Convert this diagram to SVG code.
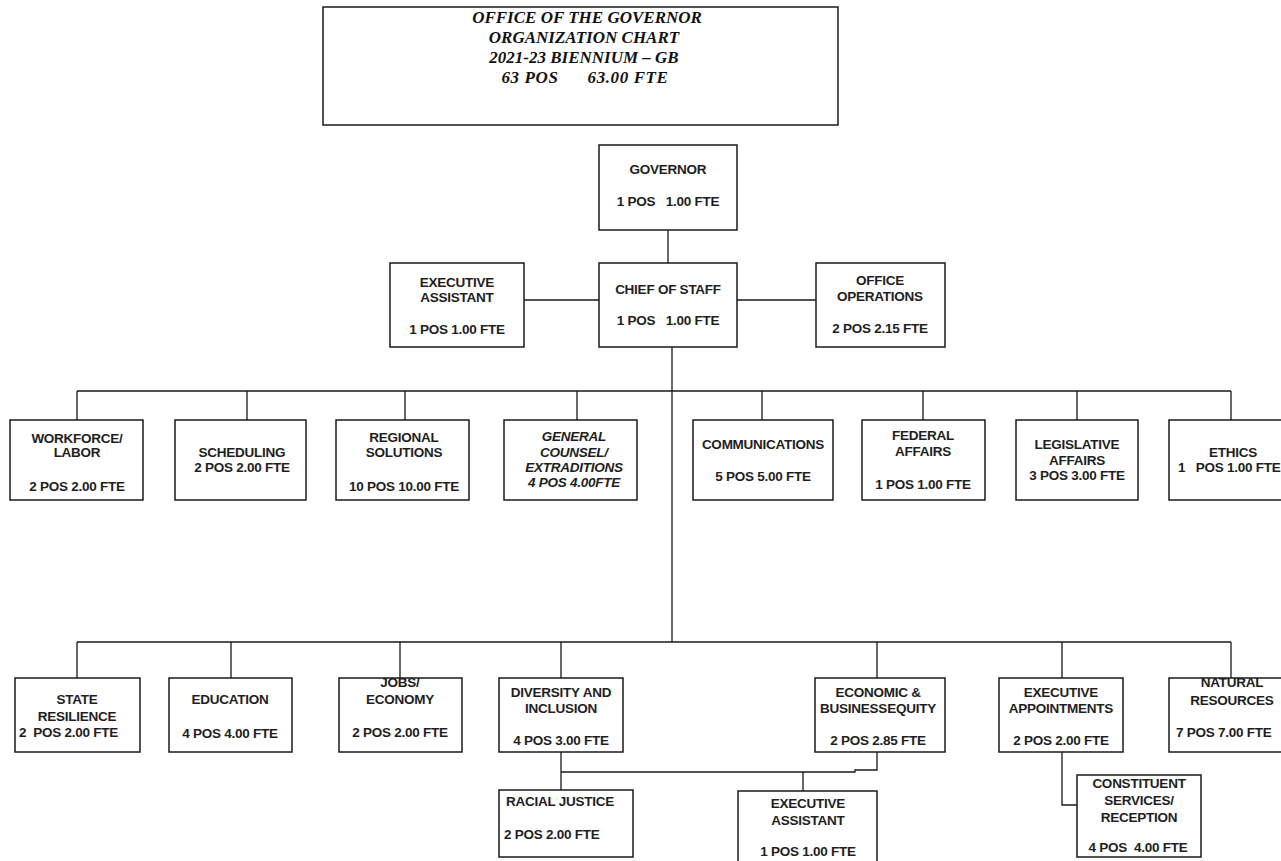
<svg xmlns="http://www.w3.org/2000/svg" width="1281" height="861" viewBox="0 0 1281 861">
<style>
.bg{fill:#fff}
.box{fill:#fff;stroke:#1a1a1a;stroke-width:1.5}
.ln{fill:none;stroke:#1a1a1a;stroke-width:1.3}
.t{font-family:"Liberation Sans",Arial,sans-serif;font-weight:bold;font-size:13.5px;fill:#1e1e1e;text-anchor:middle;letter-spacing:-0.25px}
.it{font-style:italic}
.st{text-anchor:start}
.ttl{font-family:"Liberation Serif","Times New Roman",serif;font-weight:bold;font-style:italic;font-size:17px;fill:#111;text-anchor:middle}
</style>
<rect class="bg" x="0" y="0" width="1281" height="861"/>
<g id="connectors">
<path class="ln" d="M668 230V263"/>
<path class="ln" d="M524 300H599M737 300H816"/>
<path class="ln" d="M672 347V642"/>
<path class="ln" d="M77 391H1231M77 391V420M247 391V420M405 391V420M577 391V420M762 391V420M923 391V420M1077 391V420M1231 391V420"/>
<path class="ln" d="M77 642H1231M77 642V678M231 642V678M400 642V678M561 642V678M877 642V678M1062 642V678M1231 642V678"/>
<path class="ln" d="M561 752V790M561 772H855V770H877V752M803 772V791"/>
<path class="ln" d="M1062 752V805H1077"/>
</g>
<g id="title">
<rect class="box" x="323" y="7" width="515" height="118"/>
<text class="ttl" x="587" y="23">OFFICE OF THE GOVERNOR</text>
<text class="ttl" x="584" y="43">ORGANIZATION CHART</text>
<text class="ttl" x="584" y="63">2021-23 BIENNIUM – GB</text>
<text class="ttl" x="585" y="83" xml:space="preserve" letter-spacing="0.6">63 POS      63.00 FTE</text>
</g>
<g id="governor">
<rect class="box" x="599" y="145" width="138" height="85"/>
<text class="t" x="668" y="174">GOVERNOR</text>
<text class="t" x="668" y="206" xml:space="preserve">1 POS   1.00 FTE</text>
</g>
<g id="exec-assistant-top">
<rect class="box" x="390" y="263" width="134" height="84"/>
<text class="t" x="457" y="287">EXECUTIVE</text>
<text class="t" x="457" y="302">ASSISTANT</text>
<text class="t" x="457" y="334">1 POS 1.00 FTE</text>
</g>
<g id="chief-of-staff">
<rect class="box" x="599" y="263" width="138" height="84"/>
<text class="t" x="668" y="294">CHIEF OF STAFF</text>
<text class="t" x="668" y="325" xml:space="preserve">1 POS   1.00 FTE</text>
</g>
<g id="office-operations">
<rect class="box" x="816" y="263" width="129" height="84"/>
<text class="t" x="880" y="285">OFFICE</text>
<text class="t" x="880" y="301">OPERATIONS</text>
<text class="t" x="880" y="333">2 POS 2.15 FTE</text>
</g>
<g id="workforce">
<rect class="box" x="10" y="420" width="133" height="80"/>
<text class="t" x="77" y="443">WORKFORCE/</text>
<text class="t" x="77" y="457">LABOR</text>
<text class="t" x="77" y="491">2 POS 2.00 FTE</text>
</g>
<g id="scheduling">
<rect class="box" x="175" y="420" width="131" height="80"/>
<text class="t" x="242" y="457">SCHEDULING</text>
<text class="t" x="242" y="472">2 POS 2.00 FTE</text>
</g>
<g id="regional">
<rect class="box" x="336" y="420" width="133" height="80"/>
<text class="t" x="404" y="442">REGIONAL</text>
<text class="t" x="404" y="457">SOLUTIONS</text>
<text class="t" x="404" y="491">10 POS 10.00 FTE</text>
</g>
<g id="general-counsel">
<rect class="box" x="504" y="420" width="133" height="80"/>
<text class="t it" x="574" y="441">GENERAL</text>
<text class="t it" x="574" y="457">COUNSEL/</text>
<text class="t it" x="574" y="472">EXTRADITIONS</text>
<text class="t it" x="574" y="487">4 POS 4.00FTE</text>
</g>
<g id="communications">
<rect class="box" x="693" y="420" width="140" height="80"/>
<text class="t" x="763" y="449">COMMUNICATIONS</text>
<text class="t" x="763" y="481">5 POS 5.00 FTE</text>
</g>
<g id="federal">
<rect class="box" x="862" y="420" width="123" height="80"/>
<text class="t" x="923" y="440">FEDERAL</text>
<text class="t" x="923" y="456">AFFAIRS</text>
<text class="t" x="923" y="489">1 POS 1.00 FTE</text>
</g>
<g id="legislative">
<rect class="box" x="1016" y="420" width="122" height="80"/>
<text class="t" x="1077" y="449">LEGISLATIVE</text>
<text class="t" x="1077" y="465">AFFAIRS</text>
<text class="t" x="1077" y="480">3 POS 3.00 FTE</text>
</g>
<g id="ethics">
<rect class="box" x="1169" y="420" width="120" height="80"/>
<text class="t" x="1233" y="457">ETHICS</text>
<text class="t st" x="1178" y="472" xml:space="preserve">1   POS 1.00 FTE</text>
</g>
<g id="state-resilience">
<rect class="box" x="15" y="678" width="125" height="74"/>
<text class="t" x="77" y="704">STATE</text>
<text class="t" x="77" y="721">RESILIENCE</text>
<text class="t st" x="19" y="737" xml:space="preserve">2  POS 2.00 FTE</text>
</g>
<g id="education">
<rect class="box" x="169" y="678" width="123" height="74"/>
<text class="t" x="230" y="704">EDUCATION</text>
<text class="t" x="230" y="738">4 POS 4.00 FTE</text>
</g>
<g id="jobs-economy">
<rect class="box" x="339" y="678" width="123" height="74"/>
<text class="t" x="400" y="687">JOBS/</text>
<text class="t" x="400" y="704">ECONOMY</text>
<text class="t" x="400" y="737">2 POS 2.00 FTE</text>
</g>
<g id="diversity">
<rect class="box" x="499" y="678" width="124" height="74"/>
<text class="t" x="561" y="697">DIVERSITY AND</text>
<text class="t" x="561" y="713">INCLUSION</text>
<text class="t" x="561" y="745">4 POS 3.00 FTE</text>
</g>
<g id="economic-equity">
<rect class="box" x="815" y="678" width="130" height="74"/>
<text class="t" x="878" y="697">ECONOMIC &amp;</text>
<text class="t" x="878" y="713">BUSINESSEQUITY</text>
<text class="t" x="878" y="745">2 POS 2.85 FTE</text>
</g>
<g id="exec-appointments">
<rect class="box" x="999" y="678" width="124" height="74"/>
<text class="t" x="1061" y="697">EXECUTIVE</text>
<text class="t" x="1061" y="713">APPOINTMENTS</text>
<text class="t" x="1061" y="745">2 POS 2.00 FTE</text>
</g>
<g id="natural-resources">
<rect class="box" x="1169" y="678" width="120" height="74"/>
<text class="t" x="1232" y="687">NATURAL</text>
<text class="t" x="1232" y="705">RESOURCES</text>
<text class="t st" x="1176" y="737">7 POS 7.00 FTE</text>
</g>
<g id="racial-justice">
<rect class="box" x="499" y="790" width="134" height="67"/>
<text class="t st" x="506" y="806">RACIAL JUSTICE</text>
<text class="t st" x="504" y="839">2 POS 2.00 FTE</text>
</g>
<g id="exec-assistant-bottom">
<rect class="box" x="738" y="791" width="139" height="80"/>
<text class="t" x="808" y="808">EXECUTIVE</text>
<text class="t" x="808" y="825">ASSISTANT</text>
<text class="t" x="808" y="856">1 POS 1.00 FTE</text>
</g>
<g id="constituent-services">
<rect class="box" x="1077" y="775" width="124" height="82"/>
<text class="t" x="1139" y="788">CONSTITUENT</text>
<text class="t" x="1139" y="805">SERVICES/</text>
<text class="t" x="1139" y="822">RECEPTION</text>
<text class="t" x="1138" y="852" xml:space="preserve">4 POS  4.00 FTE</text>
</g>
</svg>
